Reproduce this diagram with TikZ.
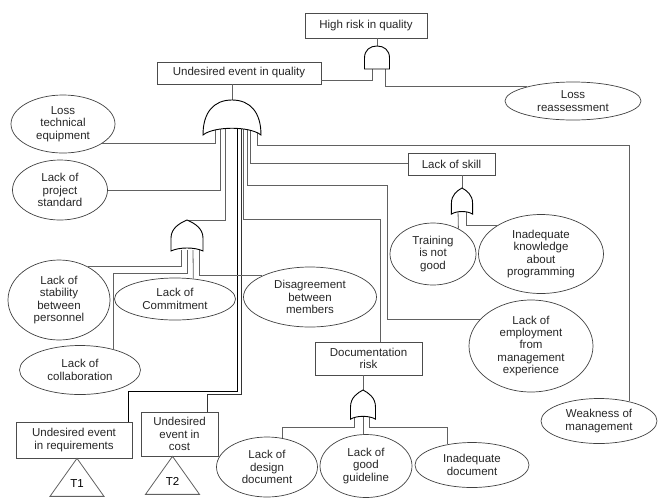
\documentclass[tikz,border=0pt]{standalone}
\usepackage{fontspec}
\setmainfont{Liberation Sans}
\usetikzlibrary{shapes.geometric}
\tikzset{>=latex}
\tikzset{
    wire/.style={draw=black!62, line width=.8pt},
    event/.style={rectangle, draw=black!70, line width=.7pt, inner sep=0pt, align=center, text=black!85},
    basic/.style={ellipse, draw=black!75, line width=.7pt, inner sep=0pt, align=center, text=black!85},
    gate/.style={draw=black, line width=.9pt, fill=white},
    orgate/.pic={\draw[gate](-16, 31)--(-16, 18) .. controls (-16, 8) and (-7, 3) .. (0, 0) .. controls (7, 3) and (16, 8) .. (16, 18)--(16, 31) .. controls (8, 27) and (-8, 27) .. (-16, 31)--cycle;},
}

\begin{document}
\begin{tikzpicture}[x=1pt, y=-1pt, every node/.style={font=\fontsize{11.5}{12.4}\selectfont}]
    \useasboundingbox (0, 0) rectangle (659, 499);
    % events
    \node[event, minimum width=122pt, minimum height=25pt] (hrq) at (366, 25.5) {High risk in quality};
    \node[event, minimum width=164pt, minimum height=22pt] (ueq) at (239, 73) {Undesired event in quality};
    \node[event, minimum width=87pt, minimum height=22pt] (lsk) at (451.5, 164) {Lack of skill};
    \node[event, minimum width=107pt, minimum height=33pt] (drk) at (368.5, 358.5) {Documentation\\risk};
    \node[event, minimum width=116pt, minimum height=36pt] (uer) at (74, 440) {Undesired event\\in requirements};
    \node[event, minimum width=77pt, minimum height=44pt] (uec) at (179.5, 434) {Undesired\\event in\\cost};
    % basic events
    \node[basic, minimum width=136pt, minimum height=38pt] (lra) at (573, 101) {Loss\\reassessment};
    \node[basic, minimum width=104pt, minimum height=58pt] (lte) at (63, 124) {Loss\\technical\\equipment};
    \node[basic, minimum width=95pt, minimum height=60pt] (lps) at (60, 190) {Lack of\\project\\standard};
    \node[basic, minimum width=102pt, minimum height=80pt] (lsb) at (59, 300) {Lack of\\stability\\between\\personnel};
    \node[basic, minimum width=121pt, minimum height=42pt] (lcm) at (175, 299) {Lack of\\Commitment};
    \node[basic, minimum width=121pt, minimum height=49pt] (lcl) at (80, 370) {Lack of\\collaboration};
    \node[basic, minimum width=133pt, minimum height=60pt] (dbm) at (310, 297) {Disagreement\\between\\members};
    \node[basic, minimum width=86pt, minimum height=62pt] (ltg) at (433, 254) {Training\\is not\\good};
    \node[basic, minimum width=125pt, minimum height=79pt] (ikp) at (541, 254) {Inadequate\\knowledge\\about\\programming};
    \node[basic, minimum width=124pt, minimum height=92pt] (lem) at (531, 346) {Lack of\\employment\\from\\management\\experience};
    \node[basic, minimum width=116pt, minimum height=45pt] (wom) at (599, 421) {Weakness of\\management};
    \node[basic, minimum width=101pt, minimum height=60pt] (ldd) at (267, 467) {Lack of\\design\\document};
    \node[basic, minimum width=92pt, minimum height=63pt] (lgg) at (366, 466) {Lack of\\good\\guideline};
    \node[basic, minimum width=114pt, minimum height=45pt] (idc) at (472, 465) {Inadequate\\document};
    % transfers
    \draw[wire]([xshift=3pt]uer.south) coordinate (t1top)--++(-27, 38)--++(54, 0)--cycle;
    \path (t1top) ++(0, 25) node (t1) {T1};
    \draw[wire]([xshift=-7pt]uec.south) coordinate (t2top)--++(-27, 38)--++(54, 0)--cycle;
    \path (t2top) ++(0, 25) node (t2) {T2};
    % gate points
    \coordinate (gat) at (377, 46);
    \coordinate (ga1) at (372, 69);
    \coordinate (ga2) at (385, 69);
    \coordinate (gqt) at (232, 100);
    \foreach \n/\x in {1/215, 2/220, 3/225, 4/237, 5/241, 6/243, 7/247, 8/250, 9/257}
        \coordinate (gq\n) at (\x, 125);
    \coordinate (gst) at (187, 220);
    \foreach \n/\x in {1/181, 2/187, 3/193, 4/199}
        \coordinate (gs\n) at (\x, 250);
    \coordinate (gkt) at (462, 188);
    \coordinate (gk1) at (458, 210);
    \coordinate (gk2) at (466, 210);
    \coordinate (gdt) at (363, 390);
    \coordinate (gd1) at (354, 416);
    \coordinate (gd2) at (363, 416);
    \coordinate (gd3) at (369, 416);
    % connectors
    \draw[wire](hrq.south -| gat)--(gat);
    \draw[wire](ga1) |- ([yshift=-7pt]ueq.east);
    \draw[wire](ga2) |- (lra.163);
    \draw[wire](ueq.south -| gqt)--(gqt);
    \draw[wire](gq1) |- (lte.-26);
    \draw[wire](gq2) |- (lps.east);
    \draw[wire](gq3) |- (gst);
    \draw[draw=black, line width=.8pt](gq4)--++(0, 266) -| ([xshift=-4pt]uer.north east);
    \draw[wire, draw=black!80](gq5)--++(0, 269) -| ([xshift=-11pt]uec.north east);
    \draw[wire](gq6)--++(0, 94) -| ([xshift=12pt]drk.north);
    \draw[wire](gq7)--++(0, 60)--++(140, 0) |- (lem.153);
    \draw[wire](gq8) |- ([yshift=1pt]lsk.west);
    \draw[wire](gq9)--++(0, 20) -| (wom.33);
    \draw[wire](gs1) |- (lsb.49);
    \draw[wire](gs2)--++(0, 23) -| (lcl.32);
    \draw[wire](gs3)--(lcm.48);
    \draw[wire](gs4) |- (dbm.156);
    \draw[wire](lsk.south -| gkt)--(gkt);
    \draw[wire](gk1)--(ltg.45);
    \draw[wire](gk2) |- (ikp.147);
    \draw[wire](drk.south -| gdt)--(gdt);
    \draw[wire](gd1)--++(0, 11) -| (ldd.62);
    \draw[wire](gd2)--(gd2 |- lgg.north);
    \draw[wire](gd3)--++(0, 11) -| (idc.140);
    % gates
    \draw[gate](364.5, 69)--(364.5, 58) .. controls (364.5, 50) and (370, 46) .. (377, 46) .. controls (384, 46) and (389.5, 50) .. (389.5, 58)--(389.5, 69)--cycle;
    \draw[gate](203, 135) .. controls (203, 112) and (214, 100) .. (232, 100) .. controls (250, 100) and (261, 112) .. (261, 135) .. controls (250, 126) and (214, 126) .. (203, 135)--cycle;
    \pic at (gst) {orgate};
    \pic[xscale=.66, yscale=.84] at (gkt) {orgate};
    \pic[xscale=.78, yscale=.94] at (gdt) {orgate};
\end{tikzpicture}
\end{document}
